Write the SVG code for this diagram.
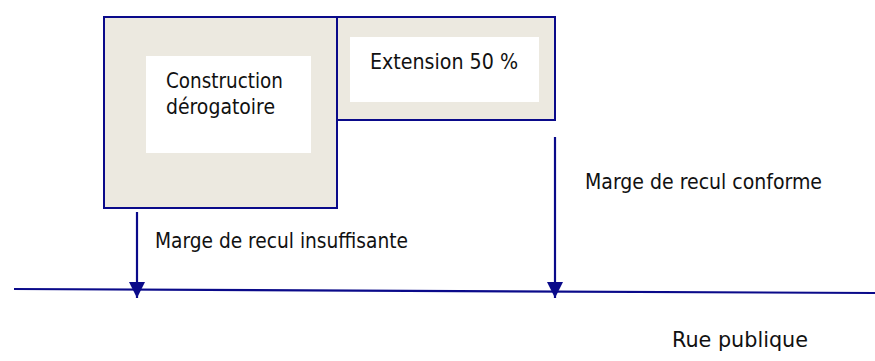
<svg xmlns="http://www.w3.org/2000/svg" width="875" height="361" viewBox="0 0 875 361">
<style>
.box{fill:#ECE9E0;stroke:#0A0A8A;stroke-width:2}
.inner{fill:#FFFFFF;stroke:none}
.t{font-family:"DejaVu Sans Condensed","DejaVu Sans",Verdana,sans-serif;font-size:21px;fill:#111111}
.c{stroke:#0A0A8A;stroke-width:2.2;fill:none}
</style>
<defs>
<marker id="ah" viewBox="0 0 10 10" refX="10" refY="5" markerWidth="7.5" markerHeight="7.5" markerUnits="strokeWidth" orient="auto">
<path d="M0,0 L10,5 L0,10 z" fill="#0A0A8A"/>
</marker>
</defs>
<rect width="875" height="361" fill="#FFFFFF"/>
<g id="construction">
<rect class="box" x="104" y="17" width="233" height="191"/>
<rect class="inner" x="146" y="56" width="165" height="97"/>
<text class="t" x="166" y="88" textLength="117" lengthAdjust="spacingAndGlyphs">Construction</text>
<text class="t" x="166" y="114" textLength="109" lengthAdjust="spacingAndGlyphs">dérogatoire</text>
</g>
<g id="extension">
<rect class="box" x="337" y="17" width="218" height="103"/>
<rect class="inner" x="350" y="37" width="189" height="65"/>
<text class="t" x="370" y="69" textLength="148" lengthAdjust="spacingAndGlyphs">Extension 50 %</text>
</g>
<g id="rue">
<line class="c" x1="14" y1="289" x2="875" y2="293"/>
<text class="t" x="672" y="347" textLength="136" lengthAdjust="spacingAndGlyphs">Rue publique</text>
</g>
<g id="connectors">
<line class="c" x1="137" y1="212" x2="137" y2="298" marker-end="url(#ah)"/>
<line class="c" x1="555" y1="137" x2="555" y2="298" marker-end="url(#ah)"/>
</g>
<g id="labels">
<text class="t" x="155" y="248" textLength="253" lengthAdjust="spacingAndGlyphs">Marge de recul insuffisante</text>
<text class="t" x="585" y="189" textLength="237" lengthAdjust="spacingAndGlyphs">Marge de recul conforme</text>
</g>
</svg>
